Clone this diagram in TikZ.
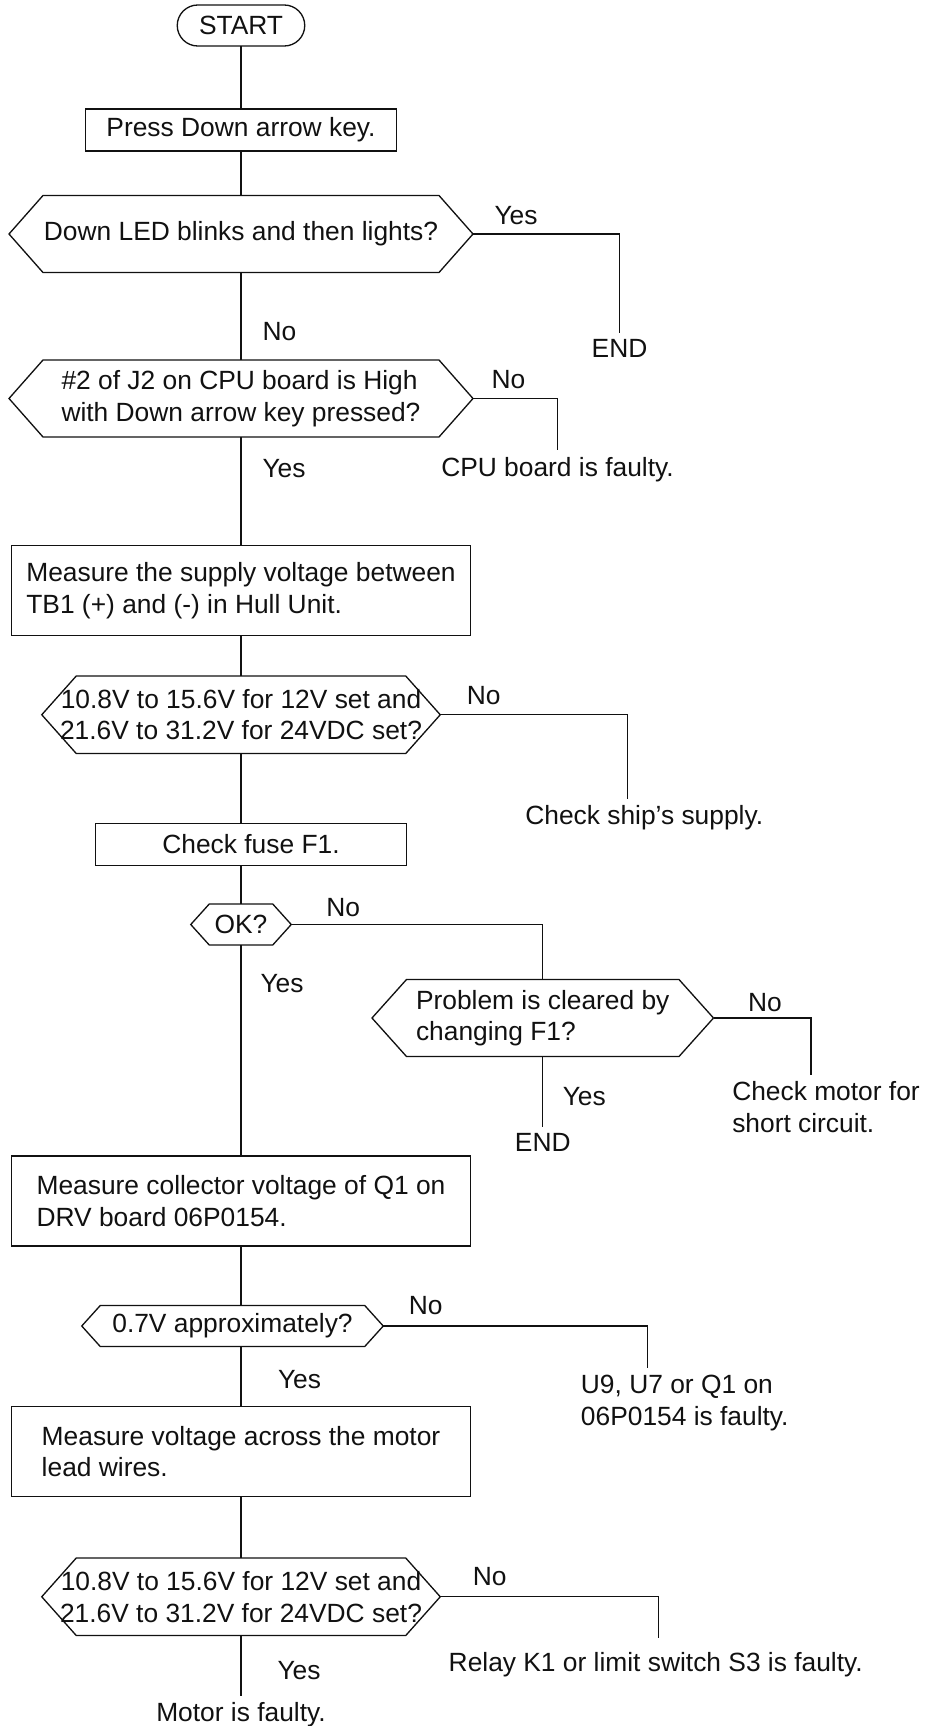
\documentclass[tikz,border=0pt]{standalone}
\usepackage{fontspec}
\setmainfont{Liberation Sans}
\usepackage{xcolor}
\usepackage{tikz}
\usetikzlibrary{positioning,calc}
\definecolor{fcInk}{HTML}{111111}
\tikzset{
  every node/.style={font=\fontsize{15}{18}\selectfont,text=fcInk,outer sep=0pt},
  term/.style={rectangle,rounded corners=0.41cm,
    minimum width=2.55cm,minimum height=0.82cm,
    inner sep=0pt,draw=fcInk,line width=0.75pt},
  stepbox/.style={rectangle,minimum width=6.23cm,minimum height=0.84cm,
    inner sep=0pt,draw=fcInk,line width=0.75pt},
  mbox/.style={rectangle,minimum width=9.17cm,minimum height=1.8cm,
    inner sep=0pt,align=left,draw=fcInk,line width=0.75pt},
  dec/.style={rectangle,inner sep=0pt,
    append after command={\pgfextra{\begin{pgfinterruptpath}
      \draw[fcInk,line width=0.75pt]
        ($(\tikzlastnode.north west)+(#1,0)$) -- ($(\tikzlastnode.north east)+(-#1,0)$)
        -- (\tikzlastnode.east) -- ($(\tikzlastnode.south east)+(-#1,0)$)
        -- ($(\tikzlastnode.south west)+(#1,0)$) -- (\tikzlastnode.west) -- cycle;
      \end{pgfinterruptpath}}}},
  bigdec/.style={dec=0.68cm,minimum width=9.28cm,minimum height=1.54cm},
  middec/.style={dec=0.69cm,minimum width=7.97cm,minimum height=1.55cm,align=center},
  smalldec/.style={dec=0.37cm,minimum height=0.82cm},
  endtxt/.style={inner sep=0.14cm},
  lbl/.style={inner sep=0pt},
  wire/.style={draw=fcInk,line width=0.75pt},
}
\begin{document}
\begin{tikzpicture}
  \path[use as bounding box,fill=white] (0,0) rectangle (18.5,-34.52);

  % main column
  \node[term] (start) at (4.82,-0.51) {START};
  \node[stepbox,below=1.26cm of start] (press) {Press Down arrow key.};
  \node[bigdec,below=0.89cm of press] (d1) {Down LED blinks and then lights?};
  \node[bigdec,align=left,below=1.75cm of d1] (d2)
    {\#2 of J2 on CPU board is High\\with Down arrow key pressed?};
  \node[mbox,below=2.17cm of d2] (meas1)
    {Measure the supply voltage between\\TB1 (+) and (-) in Hull Unit.};
  \node[middec,below=0.81cm of meas1] (d3)
    {10.8V to 15.6V for 12V set and\\21.6V to 31.2V for 24VDC set?};
  \node[stepbox,below=1.40cm of d3,xshift=0.2cm] (fuse) {Check fuse F1.};
  \node[smalldec,minimum width=2.01cm,below=0.77cm of fuse,xshift=-0.2cm] (ok) {OK?};
  \node[mbox,below=4.22cm of ok] (meas2)
    {Measure collector voltage of Q1 on\\DRV board 06P0154.};
  \node[smalldec,minimum width=6.03cm,below=1.19cm of meas2,xshift=-0.17cm] (d5)
    {0.7V approximately?};
  \node[mbox,below=1.2cm of d5,xshift=0.17cm] (meas3)
    {Measure voltage across the motor\\lead wires.};
  \node[middec,below=1.23cm of meas3] (d6)
    {10.8V to 15.6V for 12V set and\\21.6V to 31.2V for 24VDC set?};
  \node[endtxt,below=1.2cm of d6] (motor) {Motor is faulty.};

  % branches
  \node[endtxt,below right=1.97cm and 2.93cm of d1.east,anchor=north] (end1) {END};
  \node[endtxt,below right=1.03cm and 1.69cm of d2.east,anchor=north] (cpu)
    {CPU board is faulty.};
  \node[endtxt,below right=1.68cm and 4.08cm of d3.east,anchor=north] (ship)
    {Check ship’s supply.};
  \node[dec=0.69cm,minimum width=6.83cm,minimum height=1.54cm,align=left,
    below right=1.10cm and 5.03cm of ok.east,anchor=north] (d4)
    {Problem is cleared by\\changing F1?};
  \node[endtxt,align=left,below right=1.13cm and 2.25cm of d4.east,anchor=north] (chk)
    {Check motor for\\short circuit.};
  \node[endtxt,below=1.40cm of d4] (end2) {END};
  \node[endtxt,align=left,below right=0.84cm and 6.03cm of d5.east,anchor=north] (u9)
    {U9, U7 or Q1 on\\06P0154 is faulty.};
  \node[endtxt,inner ysep=0.3cm,below right=0.82cm and 4.31cm of d6.east,anchor=north] (relay)
    {Relay K1 or limit switch S3 is faulty.};

  % yes / no labels
  \node[lbl,above right=0.18cm and 0.43cm of d1.east] (yes1) {Yes};
  \node[lbl,below right=1.0cm and 0.43cm of d1.south] (no1) {No};
  \node[lbl,above right=0.19cm and 0.37cm of d2.east] (no2) {No};
  \node[lbl,below right=0.44cm and 0.43cm of d2.south] (yes2) {Yes};
  \node[lbl,above right=0.21cm and 0.53cm of d3.east] (no3) {No};
  \node[lbl,above right=0.15cm and 0.70cm of ok.east] (no4) {No};
  \node[lbl,below right=0.59cm and 0.39cm of ok.south] (yes4) {Yes};
  \node[lbl,above right=0.13cm and 0.69cm of d4.east] (no5) {No};
  \node[lbl,below right=0.62cm and 0.4cm of d4.south] (yes5) {Yes};
  \node[lbl,above right=0.23cm and 0.51cm of d5.east] (no6) {No};
  \node[lbl,below right=0.48cm and 0.91cm of d5.south] (yes6) {Yes};
  \node[lbl,above right=0.23cm and 0.65cm of d6.east] (no7) {No};
  \node[lbl,below right=0.51cm and 0.73cm of d6.south] (yes7) {Yes};

  % connectors
  \draw[wire] (start) -- (press);
  \draw[wire] (press) -- (d1);
  \draw[wire] (d1) -- (d2);
  \draw[wire] (d2) -- (meas1);
  \draw[wire] (meas1) -- (d3);
  \draw[wire] (d3) -- (d3.south |- fuse.north);
  \draw[wire] (ok.north |- fuse.south) -- (ok);
  \draw[wire] (ok) -- (meas2);
  \draw[wire] (meas2.south) -- (meas2.south |- d5.north);
  \draw[wire] (meas3.north |- d5.south) -- (meas3);
  \draw[wire] (meas3) -- (d6);
  \draw[wire] (d6) -- (motor);

  \draw[wire] (d1.east) -| (end1.north);
  \draw[wire] (d2.east) -| (cpu.north);
  \draw[wire] (d3.east) -| ([xshift=-0.33cm]ship.north);
  \draw[wire] (ok.east) -| (d4.north);
  \draw[wire] (d4.east) -| ([xshift=-0.3cm]chk.north);
  \draw[wire] (d4) -- (end2);
  \draw[wire] (d5.east) -| ([xshift=-0.74cm]u9.north);
  \draw[wire] (d6.east) -| ([xshift=0.06cm]relay.north);
\end{tikzpicture}
\end{document}
